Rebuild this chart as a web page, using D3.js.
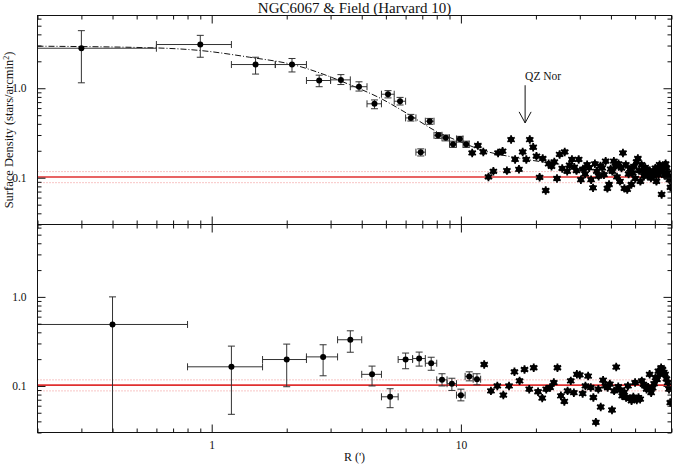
<!DOCTYPE html>
<html>
<head>
<meta charset="utf-8">
<script src="https://cdn.jsdelivr.net/npm/d3@7"></script>
<style>
    body { margin: 0; background: #fff; }
    svg { font-family: "Liberation Serif", "Times New Roman", serif; }
</style>
</head>
<body>
<svg width="676" height="464"></svg>
<script>
var title = 'NGC6067 & Field (Harvard 10)';
var xLabel = "R (')";
var yLabel = 'Surface Density (stars/arcmin';

var xTicksMajor = [1, 10];
var xTicksMinor = [0.2, 0.3, 0.4, 0.5, 0.6, 0.7, 0.8, 0.9, 2, 3, 4, 5, 6, 7, 8, 9, 20, 30, 40, 50, 60, 70];
var yTicksMajor = [0.1, 1];
var yTicksMinor = [0.03, 0.04, 0.05, 0.06, 0.07, 0.08, 0.09, 0.2, 0.3, 0.4, 0.5, 0.6, 0.7, 0.8, 0.9, 2, 3, 4, 5, 6];

// cluster + field, annuli of 0.6'
var binTop = 0.6;
var rTop = [0.3, 0.9, 1.5, 2.1, 2.7, 3.3, 3.9, 4.5, 5.1, 5.7, 6.3, 6.9, 7.5, 8.1, 8.7, 9.3, 9.9, 10.5,
    11.1, 11.7, 12.3, 12.9, 13.5, 14.1, 14.7, 15.3, 15.9, 16.5, 17.1, 17.7, 18.3, 18.9, 19.5, 20.1,
    20.7, 21.3, 21.9, 22.5, 23.1, 23.7, 24.3, 24.9, 25.5, 26.1, 26.7, 27.3, 27.9, 28.5, 29.1, 29.7,
    30.3, 30.9, 31.5, 32.1, 32.7, 33.3, 33.9, 34.5, 35.1, 35.7, 36.3, 36.9, 37.5, 38.1, 38.7, 39.3,
    39.9, 40.5, 41.1, 41.7, 42.3, 42.9, 43.5, 44.1, 44.7, 45.3, 45.9, 46.5, 47.1, 47.7, 48.3, 48.9,
    49.5, 50.1, 50.7, 51.3, 51.9, 52.5, 53.1, 53.7, 54.3, 54.9, 55.5, 56.1, 56.7, 57.3, 57.9, 58.5,
    59.1, 59.7, 60.3, 60.9, 61.5, 62.1, 62.7, 63.3, 63.9, 64.5, 65.1, 65.7, 66.3, 66.9, 67.5, 68.1,
    68.7, 69.3];
var dTop = [2.8, 3.08, 1.84, 1.84, 1.22, 1.24, 1.04, 0.67, 0.857, 0.716, 0.466, 0.193, 0.428, 0.298, 0.279, 0.237, 0.271, 0.237,
    0.189, 0.229, 0.194, 0.102, 0.118, 0.189, 0.198, 0.120, 0.267, 0.160, 0.124, 0.194, 0.160, 0.267, 0.219, 0.174,
    0.101, 0.164, 0.072, 0.143, 0.134, 0.150, 0.098, 0.182, 0.127, 0.194, 0.118, 0.138, 0.160, 0.131, 0.120, 0.160,
    0.095, 0.125, 0.110, 0.140, 0.129, 0.095, 0.077, 0.143, 0.118, 0.104, 0.135, 0.129, 0.108, 0.153, 0.076, 0.084,
    0.125, 0.118, 0.153, 0.134, 0.102, 0.143, 0.091, 0.128, 0.189, 0.076, 0.140, 0.074, 0.110, 0.125, 0.084, 0.113,
    0.134, 0.098, 0.150, 0.164, 0.120, 0.091, 0.140, 0.118, 0.104, 0.130, 0.124, 0.106, 0.113, 0.120, 0.099, 0.110,
    0.104, 0.116, 0.128, 0.091, 0.124, 0.108, 0.140, 0.118, 0.065, 0.122, 0.134, 0.106, 0.143, 0.128, 0.113, 0.102,
    0.095, 0.078];
var loTop = [1.15, 2.22, 1.44, 1.52, 1.04, 1.10, 0.93, 0.59, 0.78, 0.65, 0.43, 0.175, 0.395, 0.275, 0.258, 0.218, 0.25, 0.218];
var hiTop = [4.4, 3.9, 2.22, 2.15, 1.40, 1.42, 1.18, 0.74, 0.94, 0.79, 0.51, 0.21, 0.46, 0.32, 0.30, 0.256, 0.29, 0.256];

// decontaminated, annuli of 0.8'
var binBot = 0.8;
var rBot = [0.4, 1.2, 2.0, 2.8, 3.6, 4.4, 5.2, 6.0, 6.8, 7.6, 8.4, 9.2, 10.0, 10.8, 11.6, 12.4, 13.2, 14.0,
    14.8, 15.6, 16.4, 17.2, 18.0, 18.8, 19.6, 20.4, 21.2, 22.0, 22.8, 23.6, 24.4, 25.2, 26.0, 26.8, 27.6,
    28.4, 29.2, 30.0, 30.8, 31.6, 32.4, 33.2, 34.0, 34.8, 35.6, 36.4, 37.2, 38.0, 38.8, 39.6, 40.4, 41.2,
    42.0, 42.8, 43.6, 44.4, 45.2, 46.0, 46.8, 47.6, 48.4, 49.2, 50.0, 50.8, 51.6, 52.4, 53.2, 54.0, 54.8,
    55.6, 56.4, 57.2, 58.0, 58.8, 59.6, 60.4, 61.2, 62.0, 62.8, 63.6, 64.4, 65.2, 66.0, 66.8, 67.6, 68.4, 69.2];
var dBot = [0.49, 0.164, 0.198, 0.212, 0.33, 0.135, 0.0755, 0.198, 0.203, 0.18, 0.117, 0.106, 0.0788, 0.128, 0.119, 0.174, 0.088, 0.100,
    0.079, 0.100, 0.144, 0.114, 0.153, 0.092, 0.160, 0.086, 0.073, 0.092, 0.096, 0.109, 0.160, 0.0774, 0.067, 0.088, 0.114,
    0.084, 0.135, 0.133, 0.082, 0.100, 0.129, 0.096, 0.0742, 0.039, 0.092, 0.058, 0.116, 0.100, 0.096, 0.105, 0.0537, 0.088,
    0.163, 0.098, 0.090, 0.0774, 0.085, 0.0742, 0.100, 0.072, 0.0681, 0.075, 0.109, 0.0696, 0.074, 0.071, 0.114, 0.104, 0.100,
    0.092, 0.097, 0.135, 0.084, 0.095, 0.106, 0.124, 0.118, 0.147, 0.135, 0.160, 0.153, 0.142, 0.135, 0.12, 0.109, 0.092, 0.065];
var loBot = [0.001, 0.048, 0.098, 0.13, 0.239, 0.10, 0.057, 0.156, 0.167, 0.15, 0.10, 0.089, 0.068, 0.114, 0.103];
var hiBot = [1.0, 0.28, 0.295, 0.29, 0.416, 0.167, 0.093, 0.234, 0.24, 0.21, 0.137, 0.122, 0.092, 0.144, 0.137];

// King profile fit
var kingR = [0.2, 0.6, 0.9, 1.42, 2.11, 3.57, 4.86, 6.03, 7.95, 10.2, 11.86, 17.2, 24.8];
var kingD = [2.95, 2.82, 2.64, 2.22, 1.84, 1.10, 0.748, 0.53, 0.331, 0.245, 0.208, 0.165, 0.142];

// field level and its 1-sigma band
var bgLevel = 0.102, bgHi = 0.117, bgLo = 0.088;

var qzNorR = 18.1, qzNorFrom = 1.08, qzNorTo = 0.41;

var svg = d3.select('svg');
var left = 37.5, right = 671.5;
var x = d3.scaleLog().domain([0.2, 70]).range([left, right]);

var panels = [
    { top: 15.5, bottom: 224.5, r: rTop, d: dTop, lo: loTop, hi: hiTop, bin: binTop, king: true },
    { top: 224.5, bottom: 432.5, r: rBot, d: dBot, lo: loBot, hi: hiBot, bin: binBot, king: false }
];

panels.forEach(function(p, pi) {
    var y = d3.scaleLog().domain([0.03, 6.5]).range([p.bottom, p.top]);
    p.y = y;
    var clipId = 'clip' + pi;
    svg.append('clipPath').attr('id', clipId)
        .append('rect')
            .attr('x', left).attr('y', p.top)
            .attr('width', right - left).attr('height', p.bottom - p.top);

    var g = svg.append('g').attr('clip-path', 'url(#' + clipId + ')');

    // field level
    [bgHi, bgLo].forEach(function(v) {
        g.append('line')
            .attr('x1', left).attr('x2', right)
            .attr('y1', y(v)).attr('y2', y(v))
            .attr('stroke', '#f08a8a')
            .attr('stroke-width', 1)
            .attr('stroke-dasharray', '1,2');
    });
    g.append('line')
        .attr('x1', left).attr('x2', right)
        .attr('y1', y(bgLevel)).attr('y2', y(bgLevel))
        .attr('stroke', '#e03030')
        .attr('stroke-width', 1.6);

    if (p.king) {
        g.append('path')
            .datum(kingR.map(function(r, i) { return [r, kingD[i]]; }))
            .attr('d', d3.line()
                .x(function(d) { return x(d[0]); })
                .y(function(d) { return y(d[1]); })
                .curve(d3.curveMonotoneX))
            .attr('fill', 'none')
            .attr('stroke', '#111')
            .attr('stroke-width', 1)
            .attr('stroke-dasharray', '6,2,1,2');
    }

    var cap = 3.5;
    var pts = p.r.map(function(r, i) { return { r: r, d: p.d[i], i: i }; });

    // error bars for the inner annuli
    pts.filter(function(d) { return d.i < p.lo.length; }).forEach(function(d) {
        var cx = x(d.r), cy = y(d.d);
        var xl = x(Math.max(d.r - p.bin / 2, 0.1)), xr = x(d.r + p.bin / 2);
        var yl = y(p.lo[d.i]), yh = y(p.hi[d.i]);
        var eb = g.append('g')
            .attr('stroke', '#333')
            .attr('stroke-width', 1);
        eb.append('line').attr('x1', xl).attr('x2', xr).attr('y1', cy).attr('y2', cy);
        eb.append('line').attr('x1', cx).attr('x2', cx).attr('y1', yl).attr('y2', yh);
        if (d.r - p.bin / 2 > 0) {
            eb.append('line').attr('x1', xl).attr('x2', xl).attr('y1', cy - cap).attr('y2', cy + cap);
        }
        eb.append('line').attr('x1', xr).attr('x2', xr).attr('y1', cy - cap).attr('y2', cy + cap);
        eb.append('line').attr('x1', cx - cap).attr('x2', cx + cap).attr('y1', yh).attr('y2', yh);
        eb.append('line').attr('x1', cx - cap).attr('x2', cx + cap).attr('y1', yl).attr('y2', yl);
        g.append('circle')
            .attr('cx', cx).attr('cy', cy)
            .attr('r', 3)
            .attr('fill', '#000');
    });

    // outer annuli: error boxes smaller than the symbol
    var star = d3.symbol().type(d3.symbolAsterisk).size(50);
    g.selectAll('.star')
        .data(pts.filter(function(d) { return d.i >= p.lo.length; }))
        .enter()
        .append('g')
            .attr('transform', function(d) { return 'translate(' + x(d.r) + ',' + y(d.d) + ')'; })
            .each(function() {
                var s = d3.select(this);
                s.append('circle').attr('r', 3).attr('fill', '#000');
                s.append('path').attr('d', star())
                    .attr('stroke', '#000')
                    .attr('stroke-width', 1.8);
            });

    // frame
    svg.append('rect')
        .attr('x', left).attr('y', p.top)
        .attr('width', right - left).attr('height', p.bottom - p.top)
        .attr('fill', 'none')
        .attr('stroke', '#111')
        .attr('stroke-width', 1);

    // ticks, all pointing inward
    var axes = [
        [d3.axisBottom(x), 'translate(0,' + p.bottom + ')', xTicksMajor, xTicksMinor, pi == 1 ? d3.format('d') : function() { return ''; }],
        [d3.axisTop(x), 'translate(0,' + p.top + ')', xTicksMajor, xTicksMinor, function() { return ''; }],
        [d3.axisLeft(y), 'translate(' + left + ',0)', yTicksMajor, yTicksMinor, d3.format('.1f')],
        [d3.axisRight(y), 'translate(' + right + ',0)', yTicksMajor, yTicksMinor, function() { return ''; }]
    ];
    axes.forEach(function(a) {
        [[a[2], 8, a[4]], [a[3], 4, function() { return ''; }]].forEach(function(t) {
            var ax = svg.append('g')
                .attr('transform', a[1])
                .call(a[0].tickValues(t[0]).tickSize(-t[1]).tickPadding(a[0] === axes[2][0] ? 11 : 8).tickFormat(t[2]));
            ax.select('.domain').remove();
            ax.selectAll('line').attr('stroke', '#111');
            ax.attr('font-family', null).attr('font-size', 11.5);
            ax.selectAll('text').attr('fill', '#111');
        });
    });
});

// QZ Nor marker
var yT = panels[0].y;
svg.append('line')
    .attr('x1', x(qzNorR)).attr('x2', x(qzNorR))
    .attr('y1', yT(qzNorFrom)).attr('y2', yT(qzNorTo))
    .attr('stroke', '#111')
    .attr('stroke-width', 1);
svg.append('path')
    .attr('d', 'M' + (x(qzNorR) - 6) + ',' + (yT(qzNorTo) - 11) + 'L' + x(qzNorR) + ',' + yT(qzNorTo) +
        'L' + (x(qzNorR) + 6) + ',' + (yT(qzNorTo) - 11))
    .attr('fill', 'none')
    .attr('stroke', '#111')
    .attr('stroke-width', 1);
svg.append('text')
    .attr('x', x(qzNorR))
    .attr('y', yT(qzNorFrom) - 5)
    .attr('font-size', 11.5)
    .attr('fill', '#111')
    .text('QZ Nor');

svg.append('text')
    .attr('x', (left + right) / 2)
    .attr('y', 13)
    .attr('text-anchor', 'middle')
    .attr('font-size', 15)
    .attr('fill', '#111')
    .text(title);

svg.append('text')
    .attr('x', (left + right) / 2)
    .attr('y', 461)
    .attr('text-anchor', 'middle')
    .attr('font-size', 12)
    .attr('fill', '#111')
    .text(xLabel);

var yl = svg.append('text')
    .attr('transform', 'translate(13,130) rotate(-90)')
    .attr('text-anchor', 'middle')
    .attr('font-size', 12.5)
    .attr('fill', '#111')
    .text(yLabel);
yl.append('tspan').attr('font-size', 8).attr('dy', -4.5).text('2');
yl.append('tspan').attr('dy', 4.5).text(')');
</script>
</body>
</html>
